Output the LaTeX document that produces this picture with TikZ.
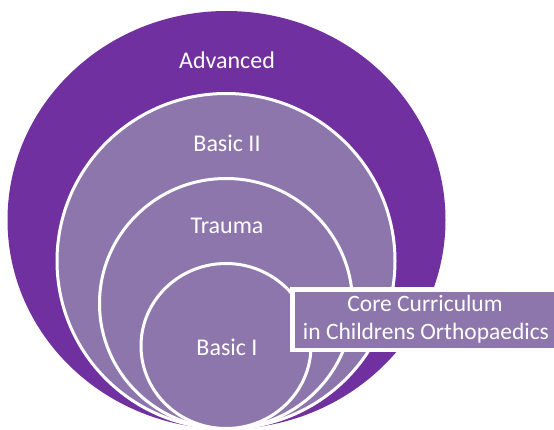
\documentclass[tikz,border=0pt]{standalone}
\usepackage{fontspec}
\setmainfont{Carlito}
\definecolor{darkpurple}{RGB}{112,48,160}
\definecolor{lightpurple}{RGB}{141,118,172}
\begin{document}
\begin{tikzpicture}[x=1pt,y=1pt,
  ring/.style={fill=lightpurple,draw=white,line width=3pt},
  lbl/.style={text=white,inner sep=0pt,anchor=base,font=\fontsize{24}{28}\selectfont},
  boxlbl/.style={text=white,inner sep=0pt,anchor=base,font=\fontsize{23.5}{28}\selectfont}]
\useasboundingbox (0,0) rectangle (554,429);
\clip (0,0) rectangle (554,429);
\fill[darkpurple] (226.5,209) ellipse [x radius=219, y radius=209];
\draw[ring] (226,168) ellipse [x radius=169, y radius=167.5];
\draw[ring] (226,125.5) ellipse [x radius=126.5, y radius=125];
\draw[ring] (226,83) ellipse [x radius=85, y radius=82.5];
\draw[fill=lightpurple,draw=white,line width=4.5pt] (292.25,79.25) rectangle (570,139.75);
\node[lbl] (adv) at (227,360.3) {Advanced};
\node[lbl] (b2) at (227,277.3) {Basic II};
\node[lbl] (tr) at (227,195.3) {Trauma};
\node[lbl] (b1) at (227,73.5) {Basic I};
\node[boxlbl] (core) at (425,117.4) {Core Curriculum};
\node[boxlbl] (child) at (426,89.4) {in Childrens Orthopaedics};
\end{tikzpicture}
\end{document}
